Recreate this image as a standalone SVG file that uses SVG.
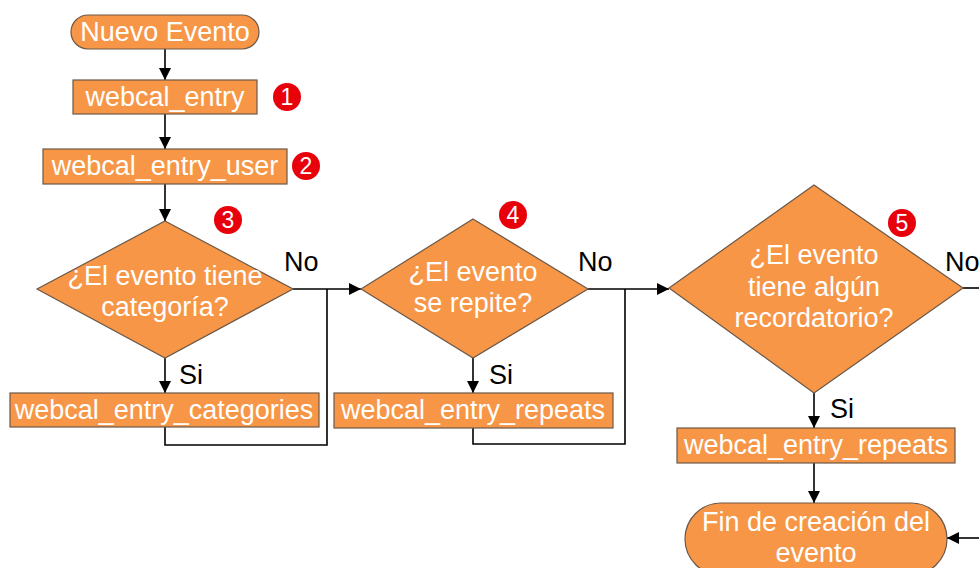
<svg xmlns="http://www.w3.org/2000/svg" width="979" height="568" viewBox="0 0 979 568">
  <style>
    .shape { fill: #f79646; stroke: #6b5848; stroke-width: 1.2; }
    .lbl { font-family: "Liberation Sans", Arial, sans-serif; font-size: 27px; fill: #ffffff; text-anchor: middle; }
    .cond { font-family: "Liberation Sans", Arial, sans-serif; font-size: 27px; fill: #000000; }
    .wire { fill: none; stroke: #000000; stroke-width: 1.6; }
    .badge { fill: #e8000b; }
    .num { font-family: "Liberation Sans", Arial, sans-serif; font-size: 23px; fill: #ffffff; text-anchor: middle; }
  </style>
  <defs>
    <marker id="arrow" viewBox="0 0 10 10" refX="10" refY="5" markerWidth="12" markerHeight="12" markerUnits="userSpaceOnUse" orient="auto">
      <path d="M0,0 L10,5 L0,10 z" fill="#000000"/>
    </marker>
  </defs>
  <rect width="979" height="568" fill="#ffffff"/>

  <!-- connectors -->
  <g id="connectors">
    <line class="wire" x1="165" y1="49" x2="165" y2="80" marker-end="url(#arrow)"/>
    <line class="wire" x1="165" y1="114" x2="165" y2="149" marker-end="url(#arrow)"/>
    <line class="wire" x1="165" y1="184" x2="165" y2="221" marker-end="url(#arrow)"/>
    <line class="wire" x1="165" y1="358" x2="165" y2="393" marker-end="url(#arrow)"/>
    <line class="wire" x1="293" y1="289" x2="361" y2="289" marker-end="url(#arrow)"/>
    <polyline class="wire" points="165,427 165,445 327,445 327,289"/>
    <line class="wire" x1="473" y1="358" x2="473" y2="393" marker-end="url(#arrow)"/>
    <line class="wire" x1="588" y1="289" x2="669" y2="289" marker-end="url(#arrow)"/>
    <polyline class="wire" points="473,428 473,444 625,444 625,289"/>
    <line class="wire" x1="814" y1="393" x2="814" y2="428" marker-end="url(#arrow)"/>
    <line class="wire" x1="814" y1="463" x2="814" y2="503" marker-end="url(#arrow)"/>
    <line class="wire" x1="963" y1="288" x2="979" y2="288"/>
    <line class="wire" x1="979" y1="538" x2="947" y2="538" marker-end="url(#arrow)"/>
    <text class="cond" x="284" y="271">No</text>
    <text class="cond" x="179" y="384">Si</text>
    <text class="cond" x="578" y="271">No</text>
    <text class="cond" x="489" y="384">Si</text>
    <text class="cond" x="945" y="271">No</text>
    <text class="cond" x="830" y="418">Si</text>
  </g>

  <g id="start">
    <rect class="shape" x="71" y="15" width="188" height="34" rx="17"/>
    <text class="lbl" x="165" y="41">Nuevo Evento</text>
  </g>

  <g id="entry">
    <rect class="shape" x="73" y="80" width="184" height="34"/>
    <text class="lbl" x="165" y="106">webcal_entry</text>
    <circle class="badge" cx="287" cy="97" r="14"/>
    <text class="num" x="287" y="105">1</text>
  </g>

  <g id="entry-user">
    <rect class="shape" x="43" y="149" width="244" height="35"/>
    <text class="lbl" x="165" y="175">webcal_entry_user</text>
    <circle class="badge" cx="306" cy="166" r="14"/>
    <text class="num" x="306" y="174">2</text>
  </g>

  <g id="has-category">
    <polygon class="shape" points="165,221 293,289 165,358 37,289"/>
    <text class="lbl" x="165" y="285">¿El evento tiene</text>
    <text class="lbl" x="165" y="316">categoría?</text>
    <circle class="badge" cx="228" cy="220" r="14"/>
    <text class="num" x="228" y="228">3</text>
  </g>

  <g id="entry-categories">
    <rect class="shape" x="10" y="393" width="309" height="34"/>
    <text class="lbl" x="164" y="419">webcal_entry_categories</text>
  </g>

  <g id="repeats-check">
    <polygon class="shape" points="473,219 588,289 473,358 361,289"/>
    <text class="lbl" x="473" y="281">¿El evento</text>
    <text class="lbl" x="473" y="312">se repite?</text>
    <circle class="badge" cx="513" cy="215" r="14"/>
    <text class="num" x="513" y="223">4</text>
  </g>

  <g id="entry-repeats">
    <rect class="shape" x="334" y="393" width="279" height="35"/>
    <text class="lbl" x="473" y="419">webcal_entry_repeats</text>
  </g>

  <g id="reminder-check">
    <polygon class="shape" points="814,185 963,288 814,393 669,288"/>
    <text class="lbl" x="814" y="264">¿El evento</text>
    <text class="lbl" x="814" y="296">tiene algún</text>
    <text class="lbl" x="814" y="327">recordatorio?</text>
    <circle class="badge" cx="902" cy="223" r="14"/>
    <text class="num" x="902" y="231">5</text>
  </g>

  <g id="entry-repeats-2">
    <rect class="shape" x="677" y="428" width="278" height="35"/>
    <text class="lbl" x="816" y="454">webcal_entry_repeats</text>
  </g>

  <g id="end">
    <rect class="shape" x="685" y="503" width="262" height="72" rx="36"/>
    <text class="lbl" x="816" y="531">Fin de creación del</text>
    <text class="lbl" x="816" y="562">evento</text>
  </g>
</svg>
